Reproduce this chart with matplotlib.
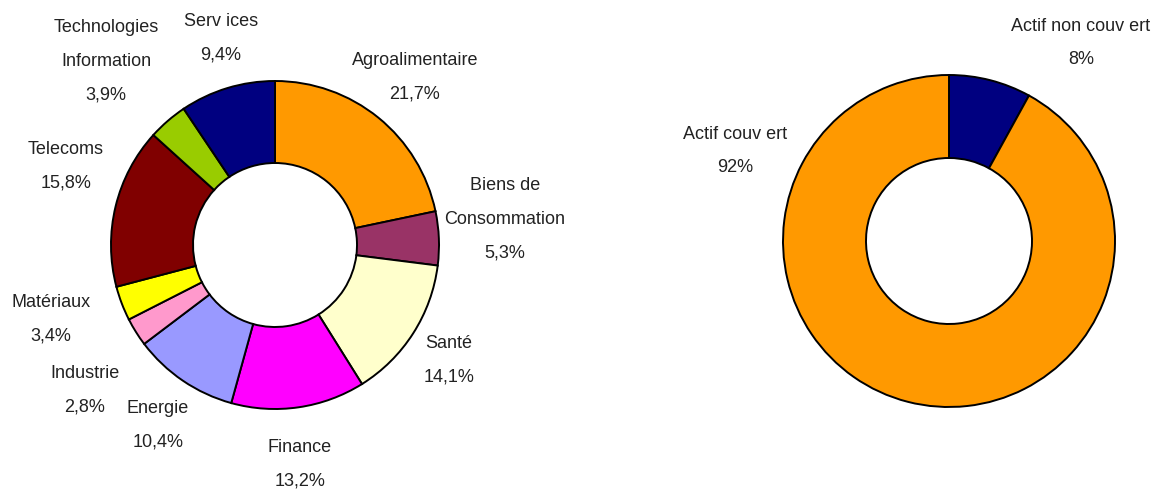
import matplotlib
matplotlib.use("Agg")
import matplotlib.pyplot as plt

# Left donut: sector breakdown
sectors = ["Agroalimentaire", "Biens de\nConsommation", "Santé", "Finance", "Energie",
           "Industrie", "Matériaux", "Telecoms", "Technologies\nInformation", "Serv ices"]
sector_pct = [21.7, 5.3, 14.1, 13.2, 10.4, 2.8, 3.4, 15.8, 3.9, 9.4]
sector_colors = ["#FF9900", "#993366", "#FFFFCC", "#FF00FF", "#9999FF",
                 "#FF99CC", "#FFFF00", "#800000", "#99CC00", "#000080"]

# Right donut: hedged vs unhedged
cover = ["Actif non couv ert", "Actif couv ert"]
cover_pct = [8, 92]
cover_colors = ["#000080", "#FF9900"]

# label centres in pixels (x, y measured from top)
sector_label_pos = [(415, 77), (505, 219), (449, 360), (300, 464), (158, 425),
                    (85, 390), (51, 319), (66, 166), (106, 61), (221, 38)]
cover_label_pos = [(1081, 43), (735, 151)]

W, H = 1157, 491
plt.rcParams["font.family"] = ["Liberation Sans", "DejaVu Sans"]
fig = plt.figure(figsize=(W / 100, H / 100), dpi=100)
ax = fig.add_axes([0, 0, 1, 1])

ax.pie(sector_pct, colors=sector_colors, startangle=90, counterclock=False,
       radius=164, center=(275, H - 245),
       wedgeprops=dict(width=82, edgecolor="black", linewidth=1.4), frame=True)
ax.pie(cover_pct, colors=cover_colors, startangle=90, counterclock=False,
       radius=166, center=(949, H - 241),
       wedgeprops=dict(width=83, edgecolor="black", linewidth=1.4), frame=True)
ax.set_xlim(0, W)
ax.set_ylim(0, H)
ax.set_aspect("equal")
ax.axis("off")

for name, v, (x, y) in zip(sectors, sector_pct, sector_label_pos):
    txt = name + "\n" + ("%.1f" % v).replace(".", ",") + "%"
    ax.text(x, H - y, txt, ha="center", va="center", fontsize=13,
            linespacing=2.3, color="#222222")

for name, v, (x, y) in zip(cover, cover_pct, cover_label_pos):
    ax.text(x, H - y, name + "\n%d%%" % v, ha="center", va="center", fontsize=13,
            linespacing=2.3, color="#222222")

fig.savefig("out.png", dpi=100)
